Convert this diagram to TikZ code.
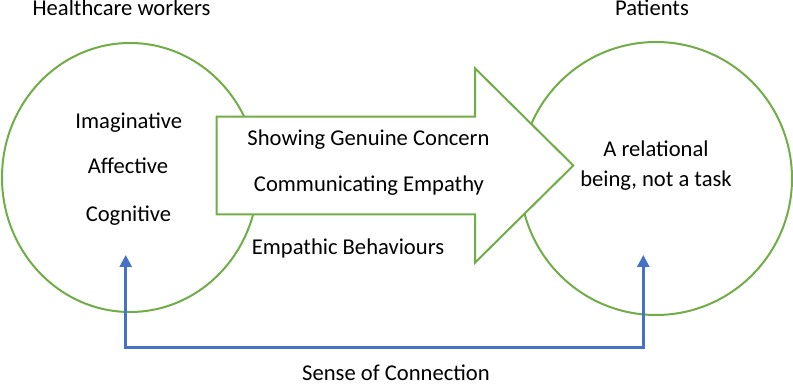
\documentclass[tikz,border=0pt]{standalone}
\usepackage{fontspec}
\setmainfont{Carlito}
\usetikzlibrary{shapes.geometric,arrows.meta}
\definecolor{cgreen}{RGB}{112,173,71}
\definecolor{cblue}{RGB}{68,114,196}
\begin{document}
\begin{tikzpicture}[x=1pt,y=-1pt,
  ring/.style={draw=cgreen,line width=2pt,ellipse,inner sep=0pt},
  bigarrow/.style={draw=cgreen,line width=2pt,fill=white,line join=miter},
  lbl/.style={anchor=base,inner sep=0pt,font=\fontsize{22.6}{26}\selectfont},
  link/.style={draw=cblue,line width=2.6pt,line join=miter,
    {Triangle[width=12pt,length=12pt]}-{Triangle[width=12pt,length=12pt]}}]
\useasboundingbox (0,0) rectangle (793,387);
% circles
\node[ring,minimum width=256pt,minimum height=269pt] (hwring) at (130,177.5) {};
\node[ring,minimum width=272pt,minimum height=273pt] (ptring) at (656,178.5) {};
% big block arrow
\draw[bigarrow] (216.7,116.7) -- (475,116.7) -- (475,68.3) -- (573.3,165.5)
  -- (475,262.7) -- (475,214.3) -- (216.7,214.3) -- cycle;
% labels
\node[lbl] (hw) at (121.5,15.5) {Healthcare workers};
\node[lbl] (pa) at (652,15.5) {Patients};
\node[lbl] (im) at (128.8,128.3) {Imaginative};
\node[lbl] (af) at (128,174) {Affective};
\node[lbl] (co) at (128.5,221.5) {Cognitive};
\node[lbl] (sg) at (368.5,145.7) {Showing Genuine Concern};
\node[lbl] (ce) at (369,191.7) {Communicating Empathy};
\node[lbl] (eb) at (348,255) {Empathic Behaviours};
\node[lbl] (ar) at (656,156.7) {A relational};
\node[lbl] (bn) at (656,186.7) {being, not a task};
\node[lbl] (sc) at (396,380.5) {Sense of Connection};
% connector
\coordinate (ltip) at (125.7,255);
\coordinate (lcorner) at (125.7,347.3);
\coordinate (rcorner) at (643.3,347.3);
\coordinate (rtip) at (643.3,255);
\draw[link] (ltip) -- (lcorner) -- (rcorner) -- (rtip);
\end{tikzpicture}
\end{document}
